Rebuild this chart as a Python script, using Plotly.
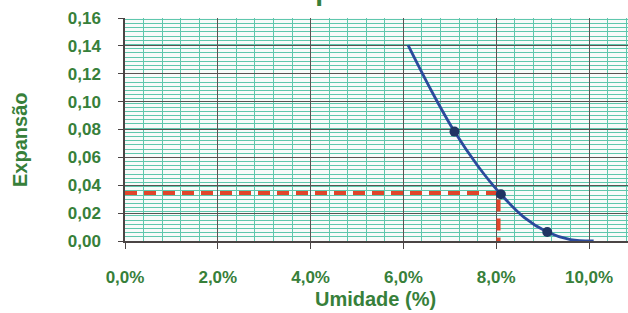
import plotly.graph_objects as go

# Data
umidade_pts = [0.071, 0.081, 0.091]
expansao_pts = [0.0785, 0.0335, 0.0065]

curve_umidade = [0.061, 0.066, 0.071, 0.076, 0.081, 0.086, 0.091, 0.096, 0.101]
curve_expansao = [0.1405, 0.108, 0.0785, 0.054, 0.0335, 0.017, 0.0065, 0.001, 0.0]

ref_umidade = [0.0, 0.0805, 0.0805]
ref_expansao = [0.0345, 0.0345, 0.0]

x_ticks = [0.0, 0.02, 0.04, 0.06, 0.08, 0.10]
y_ticks = [0.0, 0.02, 0.04, 0.06, 0.08, 0.10, 0.12, 0.14, 0.16]

green = "#37803a"
font_family = "Liberation Sans, Arial, sans-serif"

fig = go.Figure()

fig.add_trace(go.Scatter(
    x=ref_umidade, y=ref_expansao, mode="lines",
    line=dict(color="#e0452b", width=4, dash="12px,7px"),
    hoverinfo="skip", showlegend=False,
))
fig.add_trace(go.Scatter(
    x=curve_umidade, y=curve_expansao, mode="lines",
    line=dict(color="#2b4a9c", width=2.8, shape="spline", smoothing=1.0),
    showlegend=False,
))
fig.add_trace(go.Scatter(
    x=umidade_pts, y=expansao_pts, mode="markers",
    marker=dict(color="#1f3563", size=10),
    showlegend=False,
))

fig.update_layout(
    width=628, height=313,
    margin=dict(l=125, r=0, t=18, b=72),
    paper_bgcolor="white",
    plot_bgcolor="#f8fbfa",
    separators=",.",
    font=dict(family=font_family, color=green, size=17),
    showlegend=False,
)

fig.update_xaxes(
    range=[0, 0.1084],
    tickvals=x_ticks, tickformat=".1%",
    tickfont=dict(family=font_family, size=17, color=green, weight="bold"),
    showgrid=True, gridcolor="#5b5252", gridwidth=1,
    minor=dict(dtick=0.004, tick0=0, showgrid=True, gridcolor="#5fc7ad", gridwidth=1),
    showline=True, linecolor="#4a4444", linewidth=1.5,
    ticks="outside", ticklen=6, tickcolor="#4a4444",
    ticklabelstandoff=14,
    zeroline=False,
)
fig.update_yaxes(
    range=[0, 0.16],
    tickvals=y_ticks, tickformat=".2f",
    tickfont=dict(family=font_family, size=17, color=green, weight="bold"),
    showgrid=True, gridcolor="#5b5252", gridwidth=1,
    minor=dict(dtick=0.003, tick0=0, showgrid=True, gridcolor="#5fc7ad", gridwidth=1),
    showline=True, linecolor="#4a4444", linewidth=1.5,
    ticks="outside", ticklen=5, tickcolor="#4a4444",
    ticklabelstandoff=14,
    zeroline=False,
)

fig.add_annotation(
    text="<b>Umidade (%)</b>", xref="paper", yref="paper",
    x=(375 - 125) / 503, y=-(299 - 241) / 223, xanchor="center", yanchor="middle",
    showarrow=False, font=dict(family=font_family, size=20, color=green),
)
fig.add_annotation(
    text="<b>Expansão</b>", xref="paper", yref="paper",
    x=-(125 - 20) / 503, y=(241 - 140) / 223, xanchor="center", yanchor="middle",
    textangle=-90,
    showarrow=False, font=dict(family=font_family, size=20, color=green),
)
fig.add_annotation(
    text="<b>Expansão</b>", xref="paper", yref="paper",
    x=(347 - 125) / 503, y=1 + 10 / 223, xanchor="center", yanchor="bottom",
    showarrow=False, font=dict(family=font_family, size=28, color=green),
)

fig.write_html(
    "out.html",
    config={"displayModeBar": False},
    post_script="document.body.style.margin='0';",
)
